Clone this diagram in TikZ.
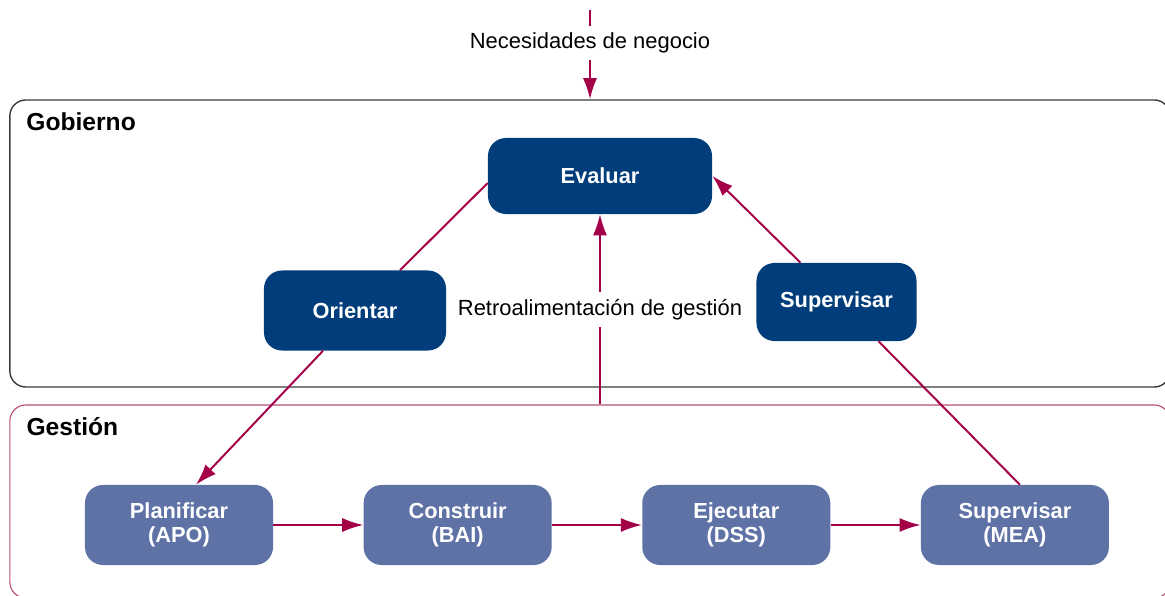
\documentclass[tikz,border=0pt]{standalone}
\usepackage{fontspec}
\setmainfont{Liberation Sans}
\usetikzlibrary{arrows.meta,positioning}
\definecolor{azulgob}{RGB}{0,61,122}
\definecolor{azulges}{RGB}{94,114,166}
\definecolor{vino}{RGB}{163,0,72}
\definecolor{bordeges}{RGB}{185,80,115}
\definecolor{bordegob}{RGB}{60,60,60}

\begin{document}
\begin{tikzpicture}[>={Latex[length=15pt,width=10pt]},x=0.025cm,y=-0.025cm,
    area/.style={rectangle,rounded corners=0.4cm,minimum width=29cm,inner sep=0pt},
    titulo/.style={font=\fontsize{17.5}{20}\selectfont\bfseries,inner sep=0pt,anchor=north west},
    gobierno/.style={rectangle,rounded corners=0.45cm,fill=azulgob,text=white,align=center,
      font=\fontsize{15.5}{17}\selectfont\bfseries,minimum height=1.95cm},
    gestion/.style={gobierno,fill=azulges,minimum width=4.7cm,minimum height=2cm},
    conector/.style={draw=vino,line width=1.4pt},
    etiqueta/.style={fill=white,inner sep=5pt,font=\fontsize{15.6}{18}\selectfont}]
  \useasboundingbox (0,0) rectangle (1165,596);

  \node[area,draw=bordegob,line width=1pt,minimum height=7.175cm] (gob) at (590,243.5) {};
  \node[area,draw=bordeges,line width=0.8pt,minimum height=4.825cm] (ges) at (590,501.5) {};
  \node[titulo] (gobt) at ([xshift=0.425cm,yshift=-0.33cm]gob.north west) {Gobierno};
  \node[titulo] (gest) at ([xshift=0.425cm,yshift=-0.33cm]ges.north west) {Gestión};

  \node[gobierno,minimum width=5.6cm,minimum height=1.9cm] (eva) at (600,176) {Evaluar};
  \node[gobierno,minimum width=4.55cm,minimum height=2cm] (ori) at (355,310.5) {Orientar};
  \node[gobierno,minimum width=4cm] (sup) at (836.5,302) {Supervisar};

  \node[gestion] (apo) at (179,525) {Planificar\\(APO)};
  \node[gestion] (bai) [right=2.25cm of apo] {Construir\\(BAI)};
  \node[gestion] (dss) [right=2.25cm of bai] {Ejecutar\\(DSS)};
  \node[gestion] (mea) [right=2.25cm of dss] {Supervisar\\(MEA)};

  \coordinate (nec) at (590,10);

  \draw[conector,->] (nec) -- node[etiqueta,pos=0.37] {Necesidades de negocio} (gob.north);
  \draw[conector] ([xshift=1.125cm]ori.north) -- ([yshift=-0.175cm]eva.west);
  \draw[conector,->] ([xshift=-0.8cm]ori.south) -- ([xshift=0.425cm]apo.north);
  \draw[conector] ([xshift=0.125cm]mea.north) -- ([xshift=1.05cm]sup.south);
  \draw[conector,->] ([xshift=-0.9cm]sup.north) -- (eva.east);
  \draw[conector,->] (eva.south |- ges.north) -- node[etiqueta] {Retroalimentación de gestión} (eva.south);
  \draw[conector,->] (apo) -- (bai);
  \draw[conector,->] (bai) -- (dss);
  \draw[conector,->] (dss) -- (mea);
\end{tikzpicture}
\end{document}
